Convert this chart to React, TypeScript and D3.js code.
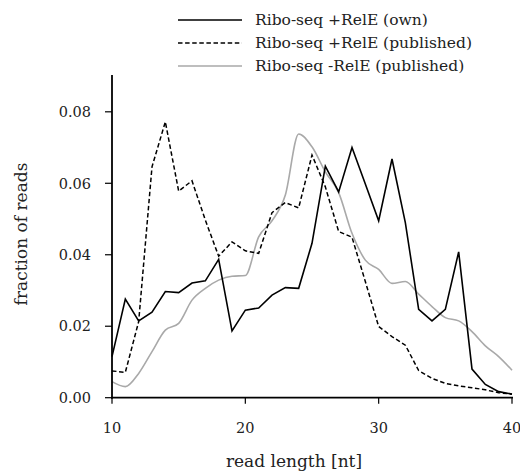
import React from "react";
import * as d3 from "d3";

// Read lengths in nucleotides
const readLengths: number[] = d3.range(10, 41);

// Fraction of reads per read length
const ownRelE: number[] = [
  0.0115, 0.0276, 0.0215, 0.0239, 0.0297, 0.0294, 0.0321, 0.0327, 0.0387, 0.0187,
  0.0245, 0.0251, 0.0287, 0.0308, 0.0306, 0.0432, 0.0648, 0.0576, 0.07, 0.0598,
  0.0495, 0.0668, 0.049, 0.0247, 0.0215, 0.0247, 0.0408, 0.008, 0.0037, 0.0017, 0.001,
];
const publishedRelE: number[] = [
  0.0075, 0.0071, 0.0213, 0.0646, 0.0772, 0.0578, 0.0607, 0.0497, 0.0396, 0.0436,
  0.0411, 0.0404, 0.0518, 0.0546, 0.0531, 0.0679, 0.059, 0.0465, 0.0449, 0.0325,
  0.0199, 0.0171, 0.0147, 0.0076, 0.0054, 0.004, 0.0033, 0.0028, 0.0022, 0.0014, 0.001,
];
const publishedNoRelE: number[] = [
  0.0045, 0.0031, 0.0068, 0.0129, 0.0189, 0.0208, 0.0273, 0.0306, 0.0329, 0.034,
  0.0342, 0.045, 0.0495, 0.0567, 0.0738, 0.0702, 0.0632, 0.0574, 0.046, 0.0385,
  0.0359, 0.032, 0.0325, 0.029, 0.0255, 0.0224, 0.0215, 0.0185, 0.0145, 0.0115, 0.0077,
];

const xTicks: number[] = [10, 20, 30, 40];
const yTicks: number[] = [0, 0.02, 0.04, 0.06, 0.08];

const seriesLabels: string[] = [
  "Ribo-seq +RelE (own)",
  "Ribo-seq +RelE (published)",
  "Ribo-seq -RelE (published)",
];

const FONT = "DejaVu Serif";

export default function App() {
  const width = 520;
  const height = 472;
  const left = 112;
  const right = 512;
  const top = 75;
  const bottom = 397.7;

  const x = d3.scaleLinear().domain([10, 40]).range([left, right]);
  const y = d3.scaleLinear().domain([0, 0.0903]).range([bottom, top]);

  const straight = d3
    .line<number>()
    .x((_, i) => x(readLengths[i]))
    .y((d) => y(d));
  const smooth = d3
    .line<number>()
    .x((_, i) => x(readLengths[i]))
    .y((d) => y(d))
    .curve(d3.curveMonotoneX);

  const styles = [
    { stroke: "#000", dash: undefined as string | undefined },
    { stroke: "#000", dash: "4.5,2.6" },
    { stroke: "#a9a9a9", dash: undefined as string | undefined },
  ];
  const legendX0 = 178;
  const legendX1 = 242;
  const legendRows = [20, 43, 66];
  const txt = { fontFamily: FONT };

  return (
    <svg
      width={width}
      height={height}
      style={{ position: "absolute", left: 0, top: 0, background: "#fff" }}
    >
      {/* data lines */}
      <path d={smooth(publishedNoRelE) ?? ""} fill="none" stroke={styles[2].stroke} strokeWidth={1.6} />
      <path
        d={straight(publishedRelE) ?? ""}
        fill="none"
        stroke={styles[1].stroke}
        strokeWidth={1.5}
        strokeDasharray={styles[1].dash}
      />
      <path d={straight(ownRelE) ?? ""} fill="none" stroke={styles[0].stroke} strokeWidth={1.6} />

      {/* y axis */}
      <line x1={left} x2={left} y1={top} y2={bottom + 1} stroke="#000" strokeWidth={1.8} />
      {yTicks.map((t) => (
        <g key={t}>
          <line x1={left - 7} x2={left} y1={y(t)} y2={y(t)} stroke="#000" strokeWidth={1.2} />
          <text x={91} y={y(t)} dy="0.36em" textAnchor="end" fontSize={14.5} fill="#222" style={txt}>
            {t.toFixed(2)}
          </text>
        </g>
      ))}
      <text
        transform={`translate(27,234) rotate(-90)`}
        textAnchor="middle"
        fontSize={17}
        fill="#222"
        style={txt}
      >
        fraction of reads
      </text>

      {/* x axis */}
      <line x1={left - 1} x2={right + 1} y1={bottom} y2={bottom} stroke="#000" strokeWidth={1.8} />
      {xTicks.map((t) => (
        <g key={t}>
          <line x1={x(t)} x2={x(t)} y1={bottom} y2={bottom + 6} stroke="#000" strokeWidth={1.2} />
          <text x={x(t)} y={433} textAnchor="middle" fontSize={14.5} fill="#222" style={txt}>
            {t}
          </text>
        </g>
      ))}
      <text x={294} y={466.5} textAnchor="middle" fontSize={17} fill="#222" style={txt}>
        read length [nt]
      </text>

      {/* legend */}
      {seriesLabels.map((label, i) => (
        <g key={label}>
          <line
            x1={legendX0}
            x2={legendX1}
            y1={legendRows[i]}
            y2={legendRows[i]}
            stroke={styles[i].stroke}
            strokeWidth={i === 2 ? 1.6 : 1.5}
            strokeDasharray={styles[i].dash}
          />
          <text x={255} y={legendRows[i]} dy="0.34em" fontSize={15.5} fill="#222" style={txt}>
            {label}
          </text>
        </g>
      ))}
    </svg>
  );
}
